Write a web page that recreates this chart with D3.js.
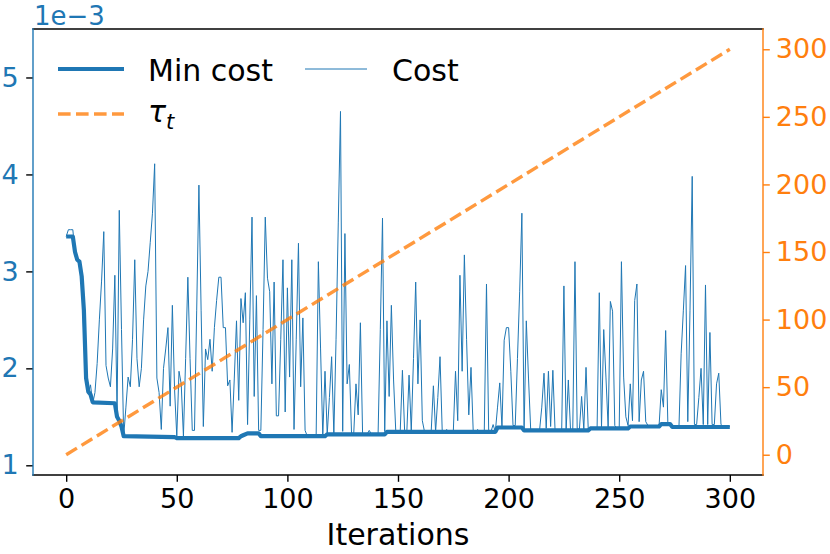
<!DOCTYPE html>
<html>
<head>
<meta charset="utf-8">
<script src="https://cdn.jsdelivr.net/npm/d3@7"></script>
<style>
  body { margin: 0; background: #fff; }
  svg { font-family: "DejaVu Sans", sans-serif; }
</style>
</head>
<body>
<svg id="chart" width="830" height="554"></svg>
<script>
// cost per iteration, in units of 1e-3
const costValues = [
  3.36, 3.43, 3.43, 3.43, 3.2, 3.12, 3.1, 3.0, 2.3, 1.85,
  1.74, 1.83, 1.64, 1.75, 2.05, 2.5, 2.9, 3.41, 2.03, 1.9,
  1.81, 2.2, 2.96, 1.55, 3.63, 2.4, 1.3, 1.6, 1.91, 1.81,
  2.3, 3.12, 2.1, 1.81, 2.0, 2.5, 2.85, 3.0, 3.3, 3.6,
  4.11, 1.9, 1.75, 1.37, 2.0, 2.2, 2.42, 1.61, 2.65, 1.78,
  1.3, 1.97, 1.84, 1.3, 2.1, 2.94, 2.1, 1.36, 1.36, 2.6,
  3.89, 2.6, 1.40, 2.2, 2.09, 2.3, 1.97, 2.42, 2.7, 2.94,
  2.94, 2.42, 2.42, 1.82, 1.88, 1.34, 1.9, 2.49, 1.67, 2.72,
  2.47, 2.78, 1.42, 2.5, 3.56, 1.71, 2.75, 1.36, 1.36, 2.4,
  3.56, 2.93, 2.79, 1.84, 2.89, 1.51, 1.51, 2.3, 3.12, 1.55,
  2.83, 1.91, 3.12, 1.37, 2.3, 3.29, 1.81, 2.52, 1.36, 1.30,
  1.30, 1.30, 1.30, 1.30, 3.1, 2.2, 1.30, 1.97, 1.32, 1.7,
  2.12, 1.32, 2.3, 3.5, 4.65, 1.35, 3.39, 1.84, 2.04, 1.33,
  1.33, 1.84, 1.52, 2.47, 1.32, 1.32, 1.32, 1.36, 1.32, 1.32,
  1.32, 1.32, 2.4, 3.55, 1.35, 2.49, 1.71, 2.65, 1.88, 1.345,
  1.345, 1.345, 1.98, 1.35, 1.35, 1.93, 1.35, 2.1, 2.89, 1.84,
  2.5, 1.46, 1.345, 1.345, 1.345, 1.345, 1.82, 1.345, 1.7, 2.12,
  1.345, 1.345, 1.37, 1.345, 1.345, 1.345, 1.97, 1.46, 2.96, 1.97,
  3.17, 2.3, 1.52, 2.01, 1.35, 1.345, 1.37, 1.345, 1.345, 1.345,
  2.87, 1.345, 1.345, 1.42, 1.345, 1.6, 1.85, 1.39, 2.29, 2.42,
  2.42, 1.97, 1.41, 1.41, 2.1, 2.79, 3.6, 1.36, 2.49, 1.9,
  1.36, 1.36, 1.36, 1.36, 1.36, 1.6, 1.95, 1.38, 1.97, 1.40,
  1.98, 1.36, 1.36, 1.36, 1.36, 2.85, 1.36, 1.88, 1.36, 1.36,
  3.1, 1.38, 1.37, 1.71, 1.37, 2.01, 1.37, 1.38, 1.38, 1.38,
  1.38, 2.78, 1.39, 2.4, 1.91, 1.39, 2.69, 2.59, 1.41, 1.38,
  1.38, 3.1, 1.91, 1.5, 1.41, 1.84, 1.46, 2.7, 2.87, 1.45,
  1.88, 1.97, 1.45, 1.41, 1.40, 1.40, 1.40, 1.40, 1.40, 1.78,
  1.6, 2.39, 1.42, 1.42, 1.39, 1.39, 1.39, 1.39, 2.15, 2.6,
  3.06, 1.45, 2.6, 3.98, 1.42, 1.42, 1.7, 2.0, 1.42, 2.86,
  1.42, 2.37, 1.42, 1.42, 1.84, 1.95, 1.42, 1.40, 1.40, 1.40,
  1.40
];

// min cost: vertices of the step line (iteration, value 1e-3)
const minCostIter = [0, 3, 4, 5, 6, 7, 8, 9, 10, 11, 12, 22, 23, 24, 25, 26, 49, 50, 78, 79, 80, 82, 87, 88,
  117, 118, 144, 145, 194, 195, 206, 207, 236, 237, 254, 255, 268, 269, 273, 274, 300];
const minCostVal = [3.36, 3.36, 3.2, 3.12, 3.1, 2.95, 2.6, 1.9, 1.76, 1.73, 1.65, 1.64, 1.5, 1.46, 1.4, 1.3,
  1.29, 1.28, 1.28, 1.3, 1.31, 1.33, 1.33, 1.30, 1.30, 1.32, 1.32, 1.345, 1.345, 1.39, 1.39, 1.36,
  1.36, 1.38, 1.38, 1.40, 1.40, 1.425, 1.425, 1.395, 1.395];

// tau_t endpoints
const tauIter = [0, 300];
const tauVal = [0, 300];

const xTicks = [0, 50, 100, 150, 200, 250, 300];
const yLeftTicks = [1, 2, 3, 4, 5];
const yRightTicks = [0, 50, 100, 150, 200, 250, 300];

const blue = "#1f77b4", orange = "#ff7f0e";
const plotL = 33, plotR = 763, plotT = 29, plotB = 475;
const tickFont = 27, bigFont = 30;

const svg = d3.select("#chart");

const x = d3.scaleLinear().domain([-15, 315]).range([plotL, plotR]);
const yL = d3.scaleLinear().domain([0.9, 5.5]).range([plotB, plotT]);
const yR = d3.scaleLinear().domain([-15, 315]).range([plotB, plotT]);

// lines
const costLine = d3.line().x((d, i) => x(i)).y(d => yL(d));
svg.append("path")
    .datum(costValues)
    .attr("d", costLine)
    .attr("fill", "none")
    .attr("stroke", blue)
    .attr("stroke-width", 1)
    .attr("stroke-linejoin", "round");

const minData = minCostIter.map((t, i) => [t, minCostVal[i]]);
svg.append("path")
    .datum(minData)
    .attr("d", d3.line().x(d => x(d[0])).y(d => yL(d[1])))
    .attr("fill", "none")
    .attr("stroke", blue)
    .attr("stroke-width", 4.2)
    .attr("stroke-linejoin", "round");

const tauData = tauIter.map((t, i) => [t, tauVal[i]]);
svg.append("path")
    .datum(tauData)
    .attr("d", d3.line().x(d => x(d[0])).y(d => yR(d[1])))
    .attr("fill", "none")
    .attr("stroke", orange)
    .attr("stroke-opacity", 0.8)
    .attr("stroke-width", 3.4)
    .attr("stroke-dasharray", "12.6,5.4");

// axes
const xAxis = svg.append("g")
    .attr("transform", `translate(0,${plotB})`)
    .call(d3.axisBottom(x).tickValues(xTicks).tickSize(6.8).tickPadding(7.3).tickFormat(d3.format("d")));
xAxis.select(".domain").remove();
xAxis.selectAll("text").attr("font-size", tickFont).attr("fill", "#000").attr("font-family", "DejaVu Sans");
xAxis.selectAll("line").attr("stroke", "#000").attr("stroke-width", 1.4);

const yAxisL = svg.append("g")
    .attr("transform", `translate(${plotL},0)`)
    .call(d3.axisLeft(yL).tickValues(yLeftTicks).tickSize(6.8).tickPadding(7.5).tickFormat(d3.format("d")));
yAxisL.select(".domain").remove();
yAxisL.selectAll("text").attr("font-size", tickFont).attr("fill", blue).attr("font-family", "DejaVu Sans");
yAxisL.selectAll("line").attr("stroke", "#000").attr("stroke-width", 1.4);

const yAxisR = svg.append("g")
    .attr("transform", `translate(${plotR},0)`)
    .call(d3.axisRight(yR).tickValues(yRightTicks).tickSize(6.8).tickPadding(6).tickFormat(d3.format("d")));
yAxisR.select(".domain").remove();
yAxisR.selectAll("text").attr("font-size", tickFont).attr("fill", orange).attr("font-family", "DejaVu Sans");
yAxisR.selectAll("line").attr("stroke", orange).attr("stroke-width", 1.4);

// spines
const spines = svg.append("g").attr("stroke-width", 1.4).attr("stroke-linecap", "square");
spines.append("line").attr("x1", plotL).attr("x2", plotR).attr("y1", plotT).attr("y2", plotT).attr("stroke", "#000");
spines.append("line").attr("x1", plotL).attr("x2", plotR).attr("y1", plotB).attr("y2", plotB).attr("stroke", "#000");
spines.append("line").attr("x1", plotL).attr("x2", plotL).attr("y1", plotT).attr("y2", plotB).attr("stroke", blue);
spines.append("line").attr("x1", plotR).attr("x2", plotR).attr("y1", plotT).attr("y2", plotB).attr("stroke", orange);

// offset text and x label
svg.append("text").attr("x", plotL + 1).attr("y", 24.5)
    .attr("font-size", 26).attr("fill", blue).text("1e\u22123");
svg.append("text").attr("x", (plotL + plotR) / 2).attr("y", 545)
    .attr("text-anchor", "middle").attr("font-size", bigFont).attr("fill", "#000").text("Iterations");

// legend
const legend = svg.append("g");
legend.append("line").attr("x1", 58).attr("x2", 124).attr("y1", 69).attr("y2", 69)
    .attr("stroke", blue).attr("stroke-width", 4.2);
legend.append("text").attr("x", 148).attr("y", 81).attr("font-size", bigFont).text("Min cost");
legend.append("line").attr("x1", 305).attr("x2", 367).attr("y1", 69).attr("y2", 69)
    .attr("stroke", blue).attr("stroke-width", 1);
legend.append("text").attr("x", 392).attr("y", 81).attr("font-size", bigFont).text("Cost");
legend.append("line").attr("x1", 58).attr("x2", 124).attr("y1", 114).attr("y2", 114)
    .attr("stroke", orange).attr("stroke-opacity", 0.8).attr("stroke-width", 3.4)
    .attr("stroke-dasharray", "12.6,5.4");
const tauText = legend.append("text").attr("x", 148).attr("y", 122).attr("font-size", bigFont);
tauText.append("tspan").attr("font-style", "italic").text("\u03c4");
tauText.append("tspan").attr("font-style", "italic").attr("font-size", 21).attr("dy", 7).text("t");
</script>
</body>
</html>
